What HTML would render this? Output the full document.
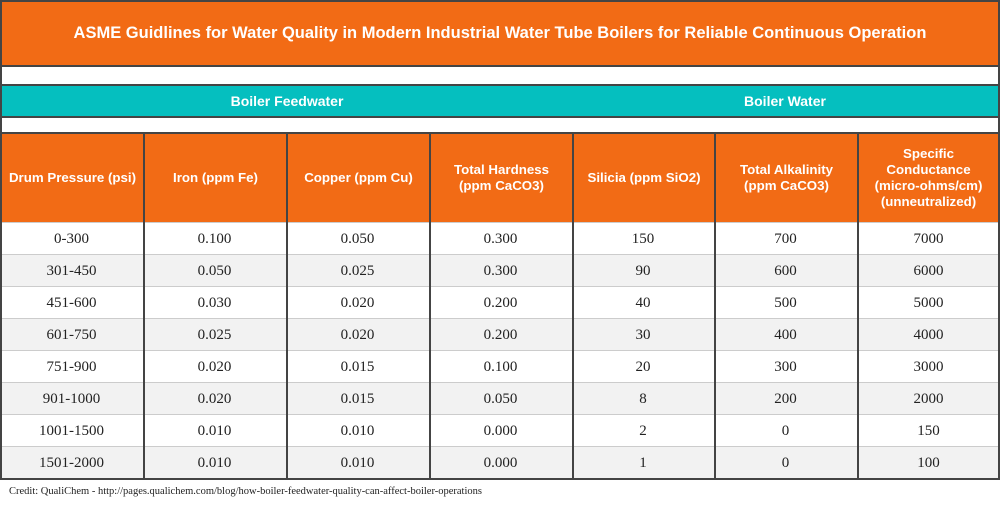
<!DOCTYPE html>
<html><head><meta charset="utf-8"><style>
body{margin:0;width:1000px;height:505px;background:#fff;position:relative;overflow:hidden;font-family:"Liberation Sans",sans-serif}
.a{position:absolute;box-sizing:border-box}
.hd{display:flex;align-items:center;justify-content:center;text-align:center;color:#fff;font-weight:bold}
.c{position:absolute;display:flex;align-items:center;justify-content:center;font-family:"Liberation Serif",serif;font-size:15px;color:#222;padding-top:3px;box-sizing:border-box}
</style></head><body>
<div class="a hd" style="left:0;top:0;width:1000px;height:67px;background:#f26b15;border:2px solid #444;font-size:16.5px">ASME Guidlines for Water Quality in Modern Industrial Water Tube Boilers for Reliable Continuous Operation</div>
<div class="a" style="left:0;top:67px;width:1000px;height:17px;border:2px solid #444;border-top:none;border-bottom:none;background:#fff"></div>
<div class="a hd" style="left:0;top:84px;width:573px;height:34px;background:#05bfbf;border:2px solid #444;border-right:1px solid #1aa;font-size:14px">Boiler Feedwater</div>
<div class="a hd" style="left:572px;top:84px;width:428px;height:34px;background:#05bfbf;border:2px solid #444;border-left:none;font-size:14px">Boiler Water</div>
<div class="a" style="left:0;top:118px;width:1000px;height:14px;border:2px solid #444;border-top:none;border-bottom:none;background:#fff"></div>
<div id="t"></div>
<div class="a" style="left:9px;top:486px;font-family:'Liberation Serif',serif;font-size:10.5px;color:#222">Credit: QualiChem - http://pages.qualichem.com/blog/how-boiler-feedwater-quality-can-affect-boiler-operations</div>
<script>
const headers=["Drum Pressure (psi)","Iron (ppm Fe)","Copper (ppm Cu)","Total Hardness<br>(ppm CaCO3)","Silicia (ppm SiO2)","Total Alkalinity<br>(ppm CaCO3)","Specific<br>Conductance<br>(micro-ohms/cm)<br>(unneutralized)"];
const rows=[["0-300","0.100","0.050","0.300","150","700","7000"],["301-450","0.050","0.025","0.300","90","600","6000"],["451-600","0.030","0.020","0.200","40","500","5000"],["601-750","0.025","0.020","0.200","30","400","4000"],["751-900","0.020","0.015","0.100","20","300","3000"],["901-1000","0.020","0.015","0.050","8","200","2000"],["1001-1500","0.010","0.010","0.000","2","0","150"],["1501-2000","0.010","0.010","0.000","1","0","100"]];
const xs=[0,143,286,429,572,714,857,1000];
let h='';
for(let i=0;i<7;i++){
 h+=`<div class="a hd" style="left:${xs[i]}px;top:132px;width:${xs[i+1]-xs[i]+(i<6?2:0)}px;height:92px;background:#f26b15;border:2px solid #444;font-size:13.3px;line-height:16px">${headers[i]}</div>`;
}
rows.forEach((r,ri)=>{
 const y=222+ri*32;
 h+=`<div class="a" style="left:0;top:${y}px;width:1000px;height:32px;background:${ri%2?'#f2f2f2':'#fff'};border-top:1px solid #ccc"></div>`;
 r.forEach((v,ci)=>{h+=`<div class="c" style="left:${xs[ci]}px;top:${y}px;width:${xs[ci+1]-xs[ci]}px;height:32px">${v}</div>`;});
});
for(let i=1;i<7;i++)h+=`<div class="a" style="left:${xs[i]}px;top:222px;width:2px;height:256px;background:#444"></div>`;
h+=`<div class="a" style="left:0;top:222px;width:1000px;height:258px;border:2px solid #444;border-top:none"></div>`;
document.getElementById('t').innerHTML=h;
</script>
</body></html>
